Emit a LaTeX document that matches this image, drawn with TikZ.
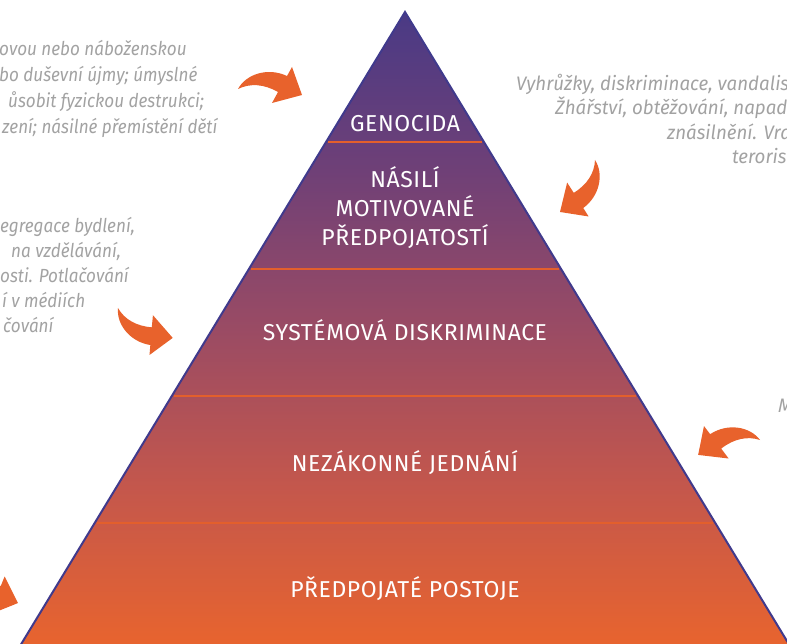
\documentclass[tikz,border=0pt]{standalone}
\usepackage{graphicx}
\usepackage{fontspec}
\usetikzlibrary{calc}
\setmainfont{Fira Sans}
\newfontfamily\lvlfont{Fira Sans}[LetterSpace=2.5]
\newcommand\sq[1]{\scalebox{0.9}[1]{#1}}
\newcommand\sqr[1]{\scalebox{0.96}[1]{#1}}
\definecolor{pB}{HTML}{E8642E}
\definecolor{p2}{HTML}{C4574C}
\definecolor{p3}{HTML}{9A4B64}
\definecolor{p4}{HTML}{6F4077}
\definecolor{pT}{HTML}{4A3A85}
\definecolor{outl}{HTML}{403A8C}
\definecolor{divorange}{HTML}{E35F2C}
\definecolor{arrorange}{HTML}{E8622C}
\definecolor{sidegray}{HTML}{A2A2A2}
\pgfdeclareverticalshading{pyr}{100bp}{color(0bp)=(pB); color(25bp)=(pB); color(37.5bp)=(p2); color(50bp)=(p3); color(62.5bp)=(p4); color(75bp)=(pT); color(100bp)=(pT)}
\tikzset{
  carrow/.pic={\fill[arrorange] (0,0) .. controls (8,-15) and (30,-22) .. (49,-13) -- (54,-22) -- (64,6) -- (34,14) -- (40,3) .. controls (26,-5) and (12,-6) .. (0,0) -- cycle;},
  sidetxt/.style={anchor=base west, inner sep=0pt, text=sidegray, font=\itshape\fontsize{19}{21}\selectfont},
  sidetxtR/.style={sidetxt, font=\itshape\fontsize{19.5}{21}\selectfont},
  lvl/.style={anchor=base, inner sep=0pt, text=white, font=\lvlfont\fontsize{23}{27}\selectfont},
  divider/.style={draw=divorange, line width=1.5pt},
  pyroutline/.style={draw=outl, line width=2pt, line join=miter}
}
\begin{document}
\begin{tikzpicture}[x=1pt,y=-1pt]
\useasboundingbox (0,0) rectangle (787,644);
\clip (0,0) rectangle (787,644);
% pyramid
\coordinate (A) at (405,12);
\coordinate (BL) at (20,646);
\coordinate (BR) at (790,646);
\shade[shading=pyr] (A) -- (BL) -- (BR) -- cycle;
\draw[pyroutline] (BL) -- (A) -- (BR);
% dividers
\foreach \t/\n in {0.2050/1, 0.4054/2, 0.6057/3, 0.8060/4} {
  \coordinate (dl\n) at ($(A)!\t!(BL)+(2,0)$);
  \coordinate (dr\n) at ($(A)!\t!(BR)+(-2,0)$);
  \draw[divider] (dl\n) -- (dr\n);
}
% level labels
\node[lvl] (genocida) at (405,132) {GENOCIDA};
\node[lvl] (nasili1) at (405,188) {NÁSILÍ};
\node[lvl] (nasili2) at (405,217) {MOTIVOVANÉ};
\node[lvl] (nasili3) at (405,246) {PŘEDPOJATOSTÍ};
\node[lvl] (system) at (405,341) {SYSTÉMOVÁ DISKRIMINACE};
\node[lvl] (nezak) at (405,471) {NEZÁKONNÉ JEDNÁNÍ};
\node[lvl] (predp) at (405,597) {PŘEDPOJATÉ POSTOJE};
% left top text
\node[sidetxt] (lt1) at (-1,56) {\sq{ovou nebo náboženskou}};
\node[sidetxt] (lt2) at (-1,82) {\sq{bo duševní újmy; úmyslné}};
\node[sidetxt] (lt3) at (8,108) {\sq{ůsobit fyzickou destrukci;}};
\node[sidetxt] (lt4) at (2,134) {\sq{zení; násilné přemístění dětí}};
% left middle text
\node[sidetxt] (lm1) at (0,233) {\sq{egregace bydlení,}};
\node[sidetxt] (lm2) at (11,258) {\sq{na vzdělávání,}};
\node[sidetxt] (lm3) at (0,283) {\sq{osti. Potlačování}};
\node[sidetxt] (lm4) at (2,308) {\sq{í v médiích}};
\node[sidetxt] (lm5) at (3,333) {\sq{čování}};
% right top text
\node[sidetxtR] (rt1) at (516,91) {\sqr{Vyhrůžky, diskriminace, vandalis}};
\node[sidetxtR] (rt2) at (555,115) {\sqr{Žhářství, obtěžování, napad}};
\node[sidetxtR] (rt3) at (667,140) {\sqr{znásilnění. Vra}};
\node[sidetxtR] (rt4) at (732,164) {\sqr{terorism}};
% right lower text
\node[sidetxtR] (rm1) at (778,412) {\sqr{M}};
% arrows
\pic[shift={(238,89)}] {carrow};
\pic[shift={(118,308)}, rotate=-34, yscale=-1, scale=0.97] {carrow};
\pic[shift={(595,160)}, rotate=-118.6, scale=0.975] {carrow};
\pic[shift={(760,440)}, rotate=-171.8, yscale=-1, scale=0.99] {carrow};
\pic[shift={(-46.3,604.9)}, rotate=7] {carrow};
\end{tikzpicture}
\end{document}
